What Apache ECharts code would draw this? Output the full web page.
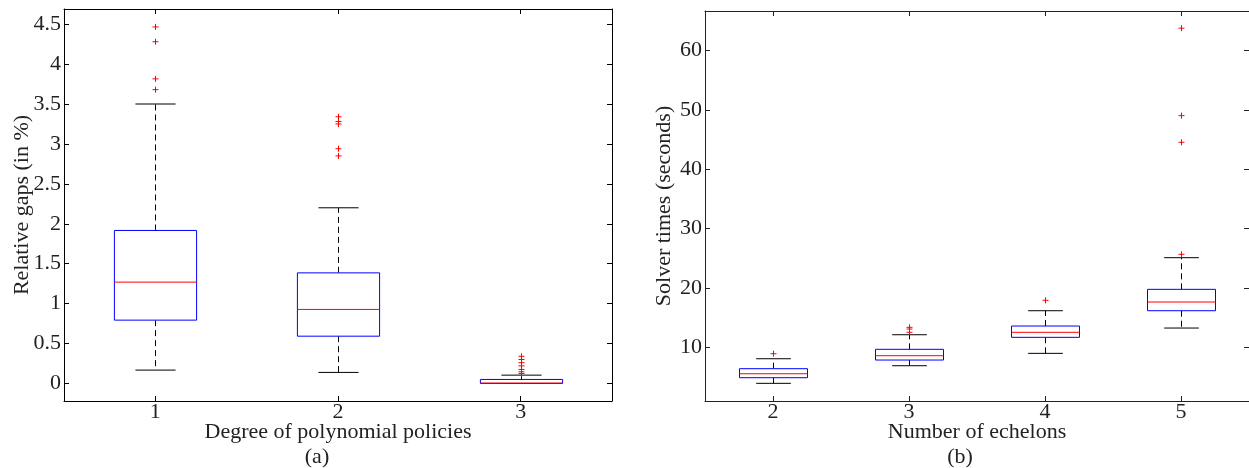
<!DOCTYPE html>
<html>
<head>
<meta charset="utf-8">
<script src="https://cdn.jsdelivr.net/npm/echarts@6/dist/echarts.min.js"></script>
<style>
html,body{margin:0;padding:0;background:#fff;}
#c{width:1249px;height:468px;}
</style>
</head>
<body>
<div id="c"></div>
<script>
// ---- Data: (a) relative gaps ----
var gapCategories = ['1', '2', '3'];
var gapLowWhisker = [0.167, 0.138, 0.0];
var gapQ1 = [0.793, 0.592, 0.0];
var gapMedian = [1.269, 0.927, 0.005];
var gapQ3 = [1.916, 1.385, 0.05];
var gapHighWhisker = [3.50, 2.20, 0.104];
var gapOutliers = [
  [0, 4.466], [0, 4.28], [0, 3.815], [0, 3.68],
  [1, 3.34], [1, 3.28], [1, 3.25], [1, 2.94], [1, 2.85],
  [2, 0.34], [2, 0.30], [2, 0.26], [2, 0.22], [2, 0.175], [2, 0.146], [2, 0.125]
];
var gapTicks = [0, 0.5, 1, 1.5, 2, 2.5, 3, 3.5, 4, 4.5];

// ---- Data: (b) solver times ----
var timeCategories = ['2', '3', '4', '5'];
var timeLowWhisker = [3.88, 6.85, 8.94, 13.21];
var timeQ1 = [4.83, 7.81, 11.64, 16.13];
var timeMedian = [5.5, 8.54, 12.49, 17.6];
var timeQ3 = [6.35, 9.62, 13.55, 19.74];
var timeHighWhisker = [8.03, 12.08, 16.13, 25.08];
var timeOutliers = [
  [0, 8.88],
  [1, 13.33], [1, 13.04], [1, 12.5],
  [2, 17.89],
  [3, 63.8], [3, 49.04], [3, 44.55], [3, 25.65]
];
var timeTicks = [10, 20, 30, 40, 50, 60];

function boxData(low, q1, med, q3, high) {
  return low.map(function (v, i) { return [i, low[i], q1[i], med[i], q3[i], high[i]]; });
}

var FONT = 'Liberation Serif';
var FS = 22;
var TXT = '#222';

function makeBoxRender(boxRatio, capRatio) {
  return function (params, api) {
    var i = api.value(0);
    var band = api.size([1, 0])[0];
    var bw = band * boxRatio, cw = band * capRatio;
    var pLow = api.coord([i, api.value(1)]);
    var pQ1 = api.coord([i, api.value(2)]);
    var pMed = api.coord([i, api.value(3)]);
    var pQ3 = api.coord([i, api.value(4)]);
    var pHigh = api.coord([i, api.value(5)]);
    var x = Math.round(pLow[0]) + 0.5;
    var children = [
      {type: 'line', shape: {x1: x, y1: pQ3[1], x2: x, y2: pHigh[1]}, style: {stroke: '#000', lineWidth: 1, lineDash: [6, 4]}},
      {type: 'line', shape: {x1: x, y1: pQ1[1], x2: x, y2: pLow[1]}, style: {stroke: '#000', lineWidth: 1, lineDash: [6, 4]}},
      {type: 'line', shape: {x1: x - cw / 2, y1: pHigh[1], x2: x + cw / 2, y2: pHigh[1]}, style: {stroke: '#000', lineWidth: 1}},
      {type: 'line', shape: {x1: x - cw / 2, y1: pLow[1], x2: x + cw / 2, y2: pLow[1]}, style: {stroke: '#000', lineWidth: 1}},
      {type: 'rect', shape: {x: x - bw / 2, y: pQ3[1], width: bw, height: pQ1[1] - pQ3[1]}, style: {fill: '#fff', stroke: '#0000ff', lineWidth: 1}},
      {type: 'line', shape: {x1: x - bw / 2, y1: pMed[1], x2: x + bw / 2, y2: pMed[1]}, style: {stroke: '#ff0000', lineWidth: 1}}
    ];
    return {type: 'group', children: children};
  };
}

function plusRender(params, api) {
  var p = api.coord([api.value(0), api.value(1)]);
  var x = Math.round(p[0]) + 0.5, y = p[1], s = 3;
  return {type: 'group', children: [
    {type: 'line', shape: {x1: x - s, y1: y, x2: x + s, y2: y}, style: {stroke: '#ff0000', lineWidth: 1}},
    {type: 'line', shape: {x1: x, y1: y - s, x2: x, y2: y + s}, style: {stroke: '#ff0000', lineWidth: 1}}
  ]};
}

function catAxis(grid, cats, pos, showLabels, name, color) {
  return {
    type: 'category', gridIndex: grid, data: cats, position: pos,
    boundaryGap: true,
    axisLine: {show: true, onZero: false, lineStyle: {color: color, width: 1}},
    axisTick: {show: true, inside: true, alignWithLabel: true, length: 5, lineStyle: {color: color}},
    axisLabel: {show: showLabels, color: TXT, fontFamily: FONT, fontSize: FS, margin: 0},
    splitLine: {show: false},
    name: name, nameLocation: 'middle', nameGap: 20, nameMoveOverlap: false,
    nameTextStyle: {color: TXT, fontFamily: FONT, fontSize: FS}
  };
}

function valAxis(grid, min, max, ticks, pos, showLabels, name, gap, color) {
  return {
    type: 'value', gridIndex: grid, min: min, max: max, position: pos,
    axisLine: {show: true, onZero: false, lineStyle: {color: color, width: 1}},
    axisTick: {show: true, inside: true, length: 5, customValues: ticks, lineStyle: {color: color}},
    axisLabel: {show: showLabels, customValues: ticks, color: TXT, fontFamily: FONT, fontSize: FS, margin: 3},
    splitLine: {show: false},
    name: name, nameLocation: 'middle', nameGap: gap, nameRotate: 90, nameMoveOverlap: false,
    nameTextStyle: {color: TXT, fontFamily: FONT, fontSize: FS}
  };
}

var chart = echarts.init(document.getElementById('c'), null, {renderer: 'canvas'});
chart.setOption({
  backgroundColor: '#fff',
  animation: false,
  grid: [
    {left: 64, top: 9, width: 548, height: 392},
    {left: 705, top: 11, width: 549, height: 390}
  ],
  xAxis: [
    catAxis(0, gapCategories, 'bottom', true, 'Degree of polynomial policies', '#000'),
    catAxis(0, gapCategories, 'top', false, '', '#000'),
    catAxis(1, timeCategories, 'bottom', true, 'Number of echelons', '#222'),
    catAxis(1, timeCategories, 'top', false, '', '#222')
  ],
  yAxis: [
    valAxis(0, -0.22, 4.69, gapTicks, 'left', true, 'Relative gaps (in %)', 31, '#000'),
    valAxis(0, -0.22, 4.69, gapTicks, 'right', false, '', 0, '#000'),
    valAxis(1, 0.9, 66.7, timeTicks, 'left', true, 'Solver times (seconds)', 30, '#222'),
    valAxis(1, 0.9, 66.7, timeTicks, 'right', false, '', 0, '#222')
  ],
  series: [
    {type: 'custom', xAxisIndex: 0, yAxisIndex: 0, renderItem: makeBoxRender(0.45, 0.22),
     encode: {x: 0, y: [1, 2, 3, 4, 5]}, data: boxData(gapLowWhisker, gapQ1, gapMedian, gapQ3, gapHighWhisker), silent: true},
    {type: 'custom', xAxisIndex: 0, yAxisIndex: 0, renderItem: plusRender,
     encode: {x: 0, y: 1}, data: gapOutliers, silent: true},
    {type: 'custom', xAxisIndex: 2, yAxisIndex: 2, renderItem: makeBoxRender(0.5, 0.255),
     encode: {x: 0, y: [1, 2, 3, 4, 5]}, data: boxData(timeLowWhisker, timeQ1, timeMedian, timeQ3, timeHighWhisker), silent: true},
    {type: 'custom', xAxisIndex: 2, yAxisIndex: 2, renderItem: plusRender,
     encode: {x: 0, y: 1}, data: timeOutliers, silent: true}
  ],
  graphic: [
    {type: 'text', x: 317, y: 457, style: {text: '(a)', fill: TXT, font: FS + 'px "Liberation Serif"', textAlign: 'center', textVerticalAlign: 'middle'}},
    {type: 'text', x: 960, y: 457, style: {text: '(b)', fill: TXT, font: FS + 'px "Liberation Serif"', textAlign: 'center', textVerticalAlign: 'middle'}}
  ]
});
</script>
</body>
</html>
